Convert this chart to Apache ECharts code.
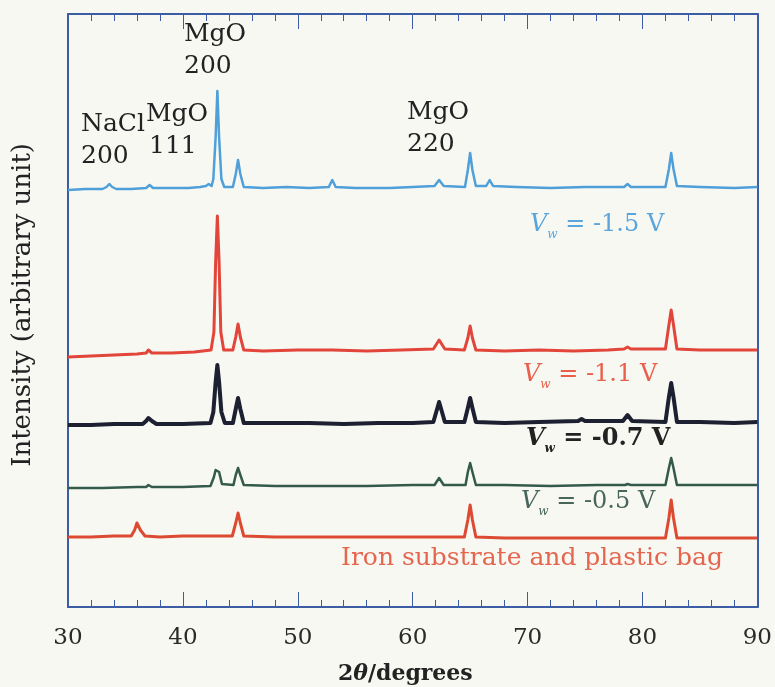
<!DOCTYPE html>
<html><head><meta charset="utf-8">
<script src="https://cdn.jsdelivr.net/npm/echarts@6/dist/echarts.min.js"></script>
<style>html,body{margin:0;padding:0;background:#f8f8f3;}#c{width:775px;height:687px;}</style>
</head><body><div id="c"></div>
<script>
// 2θ (degrees) vs intensity (arbitrary units, traces stacked as in the figure)
const xTicks = [30, 40, 50, 60, 70, 80, 90];
const seriesNames = ['Vw = -1.5 V', 'Vw = -1.1 V', 'Vw = -0.7 V', 'Vw = -0.5 V', 'Iron substrate and plastic bag'];

const vw15 = [[30,417],[31.5,418],[33.0,418],[33.35,420],[33.6,423],[33.85,420],[34.2,418],[35.5,418],[36.8,419],[37.1,422],[37.4,419],[39,419],[40.5,419],[41.5,420],[42.0,421],[42.25,423],[42.5,421],[42.65,428],[42.85,470],[43.0,516],[43.15,470],[43.35,428],[43.6,420],[44.35,420],[44.6,433],[44.8,447],[45.0,433],[45.3,420],[47,419],[49,420],[51,419],[52.7,420],[53.0,427],[53.3,420],[55,419],[58,419],[60,420],[61.9,421],[62.3,427],[62.7,421],[64.55,420],[64.8,437],[65.0,454],[65.2,437],[65.5,421],[66.4,421],[66.7,427],[67.0,421],[69,420],[72,419],[75,420],[78.4,420],[78.7,423],[79.0,420],[82.0,420],[82.3,438],[82.5,454],[82.7,438],[83.0,421],[85,420],[88,419],[90,420]];

const vw11 = [[30,250],[32,251],[34,252],[36,253],[36.8,254],[37.0,257],[37.3,254],[39,254],[41,255],[42.45,257],[42.7,275],[42.85,345],[43.0,391],[43.15,345],[43.3,275],[43.55,257],[44.35,257],[44.6,270],[44.8,283],[45.0,270],[45.3,257],[47,256],[50,257],[53,257],[56,256],[59,257],[61.8,258],[62.3,267],[62.8,258],[64.5,257],[64.8,269],[65.0,281],[65.2,269],[65.5,257],[68,256],[71,257],[74,256],[77,257],[78.4,258],[78.7,260],[79.0,258],[82.0,258],[82.3,282],[82.5,297],[82.7,282],[83.0,258],[85,257],[88,257],[90,257]];

const vw07 = [[30,182],[32,182],[34,183],[36.5,183],[36.8,186],[37.0,189],[37.3,186],[37.7,183],[40,183],[42.4,184],[42.65,195],[42.85,225],[43.0,242],[43.15,225],[43.35,195],[43.65,184],[44.35,184],[44.6,198],[44.8,209],[45.0,198],[45.3,184],[48,184],[51,184],[54,183],[57,184],[60,184],[61.8,185],[62.1,197],[62.3,205],[62.5,197],[62.8,185],[64.5,185],[64.8,199],[65.0,209],[65.2,199],[65.5,185],[68,184],[71,185],[74.4,186],[74.7,188],[75.0,186],[78.3,186],[78.7,192],[79.1,186],[82.0,185],[82.3,210],[82.5,224],[82.7,210],[83.0,185],[85,185],[88,184],[90,185]];

const vw05 = [[30,119],[33,119],[36,120],[36.8,120],[37.0,122],[37.3,120],[40,120],[42.4,121],[42.7,130],[42.85,137],[43.0,139],[43.15,135],[43.4,123],[44.4,122],[44.6,132],[44.8,139],[45.0,132],[45.3,122],[48,121],[52,121],[56,121],[60,122],[61.9,122],[62.3,129],[62.7,122],[64.6,122],[64.8,135],[65.0,144],[65.2,135],[65.5,122],[68,122],[72,121],[76,122],[78.5,122],[78.7,123],[79,122],[82.0,122],[82.3,139],[82.5,149],[82.7,139],[83.0,122],[86,122],[90,122]];

const ironBag = [[30,70],[32,70],[34,71],[35.5,71],[35.8,77],[36.0,84],[36.3,77],[36.7,71],[38,70],[40,71],[42,71],[44.3,71],[44.6,84],[44.8,94],[45.0,84],[45.3,71],[48,70],[52,70],[56,70],[60,70],[64.5,70],[64.8,87],[65.0,102],[65.2,87],[65.5,70],[68,69],[72,69],[76,69],[80,69],[82.0,69],[82.3,89],[82.5,107],[82.7,89],[83.0,69],[86,69],[90,69]];

const traces = [vw15, vw11, vw07, vw05, ironBag];
const colors = ['#4f9fd9', '#e2453a', '#1c2030', '#345a4c', '#dc4a32'];
const widths = [2.5, 3, 4, 2.5, 3];

const FRAME = '#3d5ca6';
const FONT = 'DejaVu Serif';

const chart = echarts.init(document.getElementById('c'), null, {renderer: 'canvas'});

function vwLabel(val, color, bold) {
  const w = bold ? 'bold' : 'normal';
  return {
    type: 'text',
    style: {
      text: '{v|V}{w|w}{t| = ' + val + ' V}',
      fill: color,
      rich: {
        v: {fontFamily: FONT, fontSize: 24, fontStyle: 'italic', fontWeight: w, fill: color, color: color},
        w: {fontFamily: FONT, fontSize: 12, fontStyle: 'italic', fontWeight: w, fill: color, color: color, padding: [20, 0, 0, 0]},
        t: {fontFamily: FONT, fontSize: 24, fontWeight: w, fill: color, color: color}
      }
    }
  };
}

function txt(text, x, y, color, size) {
  return {type: 'text', left: x, top: y, style: {text: text, fill: color || '#222', font: (size || 25) + 'px "' + FONT + '"'}};
}

const graphics = [
  txt('MgO', 184, 22), txt('200', 184, 54),
  txt('NaCl', 81, 112), txt('200', 81, 144),
  txt('MgO', 146, 102), txt('111', 149, 134),
  txt('MgO', 407, 100), txt('220', 407, 132),
  Object.assign(vwLabel('-1.5', '#5aa6dc', false), {left: 530, top: 213}),
  Object.assign(vwLabel('-1.1', '#e8604c', false), {left: 523, top: 363}),
  Object.assign(vwLabel('-0.7', '#222', true), {left: 526, top: 427}),
  Object.assign(vwLabel('-0.5', '#48665c', false), {left: 521, top: 490}),
  txt('Iron substrate and plastic bag', 341, 546, '#e4664f'),
  {type: 'text', left: 338, top: 663, style: {text: '2{i|θ}/degrees', fill: '#222',
    font: 'bold 22px "' + FONT + '"',
    rich: {i: {fontFamily: FONT, fontStyle: 'italic', fontWeight: 'bold', fontSize: 22, fill: '#222', color: '#222'}}}},
  {type: 'text', left: 10, top: 143, rotation: Math.PI / 2, originX: 0, originY: 0,
    style: {text: 'Intensity (arbitrary unit)', fill: '#222', font: '26px "' + FONT + '"'}}
];

const axisCommon = {
  type: 'value', min: xTicks[0], max: xTicks[xTicks.length - 1], interval: 10,
  axisLine: {show: true, onZero: false, lineStyle: {color: FRAME, width: 2}},
  axisTick: {show: true, inside: true, length: 15, lineStyle: {color: FRAME, width: 1}},
  minorTick: {show: true, splitNumber: 5, length: 7, lineStyle: {color: FRAME, width: 1}},
  splitLine: {show: false}
};

chart.setOption({
  animation: false,
  backgroundColor: '#f8f8f3',
  grid: {left: 68, right: 17, top: 14, bottom: 80, show: false},
  xAxis: [
    Object.assign({}, axisCommon, {position: 'bottom',
      axisLabel: {show: true, margin: 20, color: '#2a2a2a', fontFamily: FONT, fontSize: 23}}),
    Object.assign({}, axisCommon, {position: 'top', axisLabel: {show: false}})
  ],
  yAxis: [
    {type: 'value', min: 0, max: 593, position: 'left', axisLabel: {show: false}, axisTick: {show: false}, splitLine: {show: false},
      axisLine: {show: true, onZero: false, lineStyle: {color: FRAME, width: 2}}},
    {type: 'value', min: 0, max: 593, position: 'right', axisLabel: {show: false}, axisTick: {show: false}, splitLine: {show: false},
      axisLine: {show: true, onZero: false, lineStyle: {color: FRAME, width: 2}}}
  ],
  series: traces.map((d, i) => ({
    name: seriesNames[i], type: 'line', data: d, showSymbol: false, symbol: 'none',
    lineStyle: {color: colors[i], width: widths[i], join: 'round'}, z: 3
  })),
  graphic: graphics
});
</script></body></html>
